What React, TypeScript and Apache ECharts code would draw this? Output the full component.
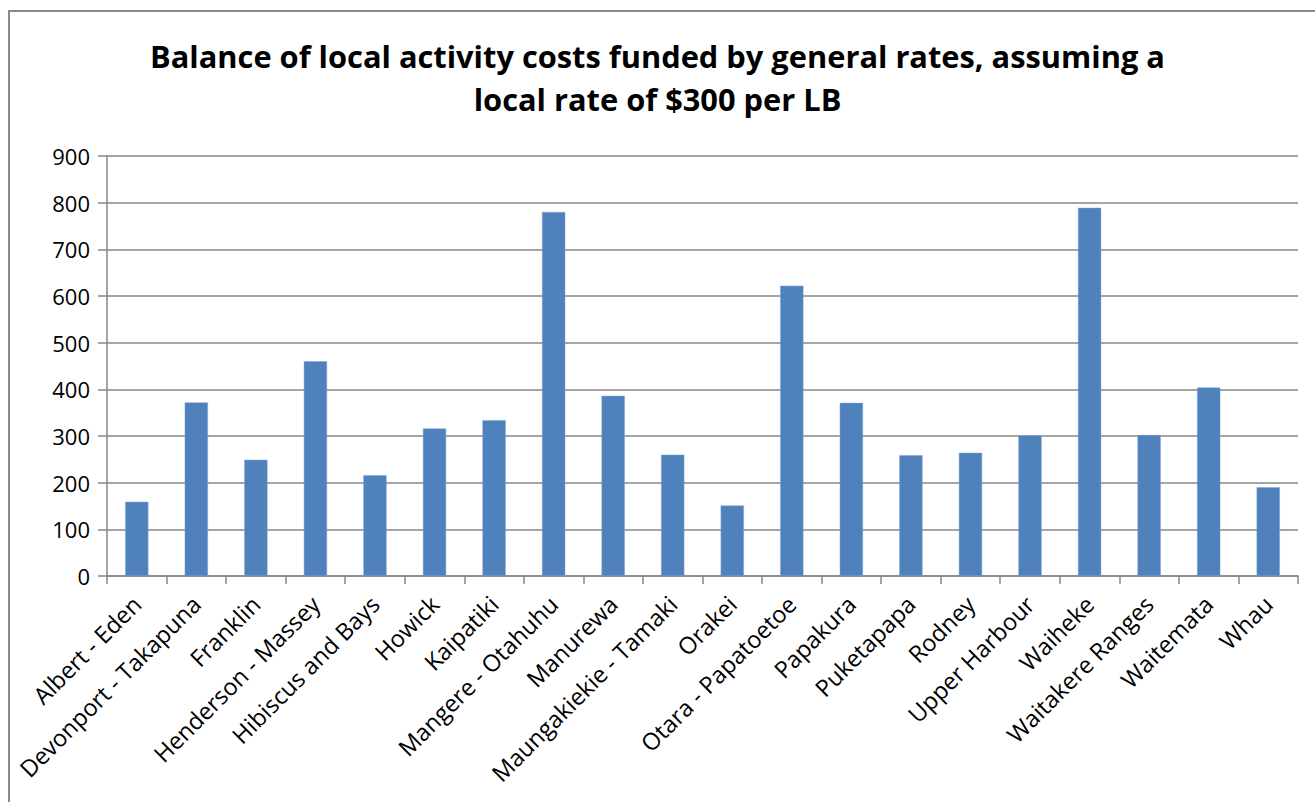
import React, { useEffect, useRef } from "react";
import * as echarts from "echarts";

const titleText = "Balance of local activity costs funded by general rates, assuming a\nlocal rate of $300 per LB";

const categories = [
  "Albert - Eden",
  "Devonport - Takapuna",
  "Franklin",
  "Henderson - Massey",
  "Hibiscus and Bays",
  "Howick",
  "Kaipatiki",
  "Mangere - Otahuhu",
  "Manurewa",
  "Maungakiekie - Tamaki",
  "Orakei",
  "Otara - Papatoetoe",
  "Papakura",
  "Puketapapa",
  "Rodney",
  "Upper Harbour",
  "Waiheke",
  "Waitakere Ranges",
  "Waitemata",
  "Whau",
];

const values = [159, 372, 249, 460, 216, 316, 334, 780, 386, 260, 151, 622, 371, 259, 264, 301, 789, 302, 404, 190];

const yMin = 0;
const yMax = 900;
const yInterval = 100;

export default function App() {
  const ref = useRef<HTMLDivElement>(null);

  useEffect(() => {
    document.body.style.margin = "0";
    if (!ref.current) return;
    const chart = echarts.init(ref.current, null, { renderer: "svg" });
    const gray = "#878787";
    chart.setOption({
      animation: false,
      backgroundColor: "#ffffff",
      title: {
        text: titleText,
        left: "center",
        top: 29,
        textStyle: {
          fontFamily: "Open Sans",
          fontWeight: "bold",
          fontSize: 30.8,
          lineHeight: 43,
          color: "#000000",
        },
      },
      graphic: [
        {
          type: "rect",
          shape: { x: 9, y: 11, width: 1400, height: 900 },
          style: { fill: "none", stroke: "#8a8a8a", lineWidth: 2 },
          silent: true,
        },
      ],
      grid: {
        left: 107,
        right: 17,
        top: 156,
        bottom: 226,
        containLabel: false,
      },
      xAxis: {
        type: "category",
        data: categories,
        axisLine: { show: true, lineStyle: { color: gray, width: 1.5 } },
        axisTick: { show: true, length: 8, lineStyle: { color: gray, width: 1.5 } },
        axisLabel: {
          rotate: 45,
          interval: 0,
          fontFamily: "Open Sans",
          fontSize: 23.5,
          color: "#000000",
          margin: 24,
        },
      },
      yAxis: {
        type: "value",
        min: yMin,
        max: yMax,
        interval: yInterval,
        axisLine: { show: true, lineStyle: { color: gray, width: 1.5 } },
        axisTick: { show: true, length: 9, lineStyle: { color: gray, width: 1.5 } },
        splitLine: { show: true, lineStyle: { color: gray, width: 1.5 } },
        axisLabel: {
          fontFamily: "Open Sans",
          fontSize: 22,
          color: "#000000",
          margin: 17,
        },
      },
      series: [
        {
          type: "bar",
          data: values,
          barWidth: "39%",
          itemStyle: { color: "#4F81BD", borderColor: "#7fa3d0", borderWidth: 0.5 },
        },
      ],
    });
    return () => chart.dispose();
  }, []);

  return <div ref={ref} style={{ width: 1315, height: 802 }} />;
}
